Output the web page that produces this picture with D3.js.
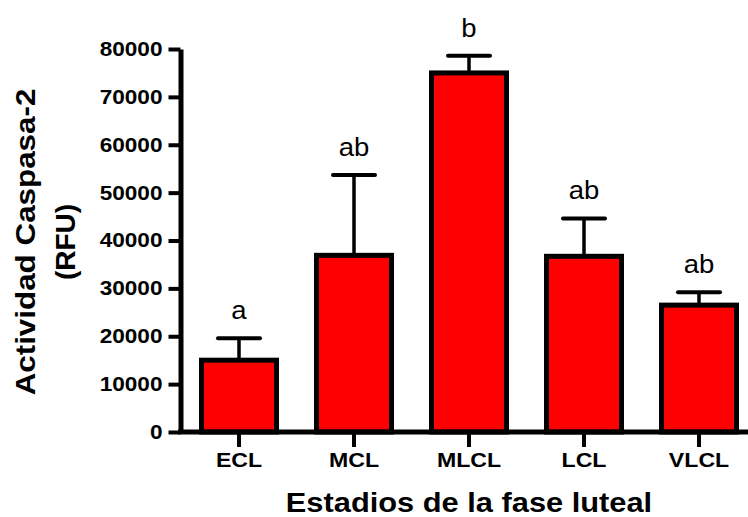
<!DOCTYPE html>
<html>
<head>
<meta charset="utf-8">
<script src="https://cdn.jsdelivr.net/npm/d3@7/dist/d3.min.js"></script>
<style>
  html, body { margin: 0; padding: 0; background: #fff; }
  svg { display: block; }
  text { font-family: "Liberation Sans", Arial, Helvetica, sans-serif; fill: #000; }
</style>
</head>
<body>
<svg id="chart" width="748" height="517"></svg>
<script>
// Caspase-2 activity across luteal phase stages
const categories = ["ECL", "MCL", "MLCL", "LCL", "VLCL"];
const means = [15000, 36900, 75000, 36700, 26500];
const errors = [4600, 16800, 3600, 7900, 2700];
const groupLetters = ["a", "ab", "b", "ab", "ab"];
const yTicks = [0, 10000, 20000, 30000, 40000, 50000, 60000, 70000, 80000];

const width = 748, height = 517;
const svg = d3.select("#chart");

const y = d3.scaleLinear().domain([0, 80000]).range([432, 49]);
const x = d3.scalePoint().domain(categories).range([181.5, 756.5]).padding(0.5);
const barWidth = 75;
const axisX = 180.5;

// the figure's type is set slightly wide: stretch each text horizontally
function widen(sel, factor) {
  sel.each(function () {
    const w = this.getComputedTextLength();
    this.setAttribute("textLength", w * factor);
    this.setAttribute("lengthAdjust", "spacingAndGlyphs");
  });
}

const data = categories.map((c, i) => ({ c, m: means[i], e: errors[i], g: groupLetters[i] }));

// error bars (upper only)
const err = svg.append("g");
err.selectAll("line.stem").data(data).join("line")
  .attr("x1", d => x(d.c)).attr("x2", d => x(d.c))
  .attr("y1", d => y(d.m)).attr("y2", d => y(d.m + d.e))
  .attr("stroke", "#000").attr("stroke-width", 3.5);
err.selectAll("line.cap").data(data).join("line")
  .attr("x1", d => x(d.c) - 21).attr("x2", d => x(d.c) + 21)
  .attr("y1", d => y(d.m + d.e)).attr("y2", d => y(d.m + d.e))
  .attr("stroke", "#000").attr("stroke-width", 4).attr("stroke-linecap", "round");

// bars
svg.append("g").selectAll("rect").data(data).join("rect")
  .attr("x", d => x(d.c) - barWidth / 2)
  .attr("width", barWidth)
  .attr("y", d => y(d.m))
  .attr("height", d => y(0) - y(d.m))
  .attr("fill", "#ff0000")
  .attr("stroke", "#000")
  .attr("stroke-width", 5);

// significance letters
svg.append("g").selectAll("text").data(data).join("text")
  .attr("x", d => x(d.c))
  .attr("y", d => y(d.m + d.e) - 19)
  .attr("text-anchor", "middle")
  .style("font-size", "25px")
  .text(d => d.g)
  .call(widen, 1.1);

// y axis
const yAxis = svg.append("g")
  .attr("transform", `translate(${axisX},0)`)
  .call(d3.axisLeft(y).tickValues(yTicks).tickSize(12).tickSizeOuter(0).tickPadding(6).tickFormat(d3.format("d")));
yAxis.attr("font-family", null).attr("font-size", null);
yAxis.select(".domain").attr("stroke", "#000").attr("stroke-width", 5);
yAxis.selectAll(".tick line").attr("stroke", "#000").attr("stroke-width", 4);
yAxis.selectAll(".tick text")
  .style("font-size", "20px").style("font-weight", "bold")
  .call(widen, 1.13);

// x axis
const xAxis = svg.append("g").attr("transform", `translate(0,${y(0)})`);
xAxis.append("line")
  .attr("x1", axisX - 2.5).attr("x2", width)
  .attr("y1", 0).attr("y2", 0)
  .attr("stroke", "#000").attr("stroke-width", 5);
const xt = xAxis.selectAll("g.tick").data(categories).join("g")
  .attr("class", "tick")
  .attr("transform", d => `translate(${x(d)},0)`);
xt.append("line").attr("y1", 0).attr("y2", 15)
  .attr("stroke", "#000").attr("stroke-width", 4);
xt.append("text")
  .attr("y", 35)
  .attr("text-anchor", "middle")
  .style("font-size", "21px").style("font-weight", "bold")
  .text(d => d)
  .call(widen, 1.1);

// axis titles
svg.append("text")
  .attr("x", 469).attr("y", 512)
  .attr("text-anchor", "middle")
  .style("font-size", "28px").style("font-weight", "bold")
  .text("Estadios de la fase luteal")
  .call(widen, 1.1);

const yTitle = svg.append("g").attr("transform", "translate(0,242) rotate(-90)");
yTitle.append("text")
  .attr("x", 0).attr("y", 35)
  .attr("text-anchor", "middle")
  .style("font-size", "28px").style("font-weight", "bold")
  .text("Actividad Caspasa-2")
  .call(widen, 1.12);
yTitle.append("text")
  .attr("x", 0).attr("y", 75)
  .attr("text-anchor", "middle")
  .style("font-size", "28px").style("font-weight", "bold")
  .text("(RFU)");
</script>
</body>
</html>
